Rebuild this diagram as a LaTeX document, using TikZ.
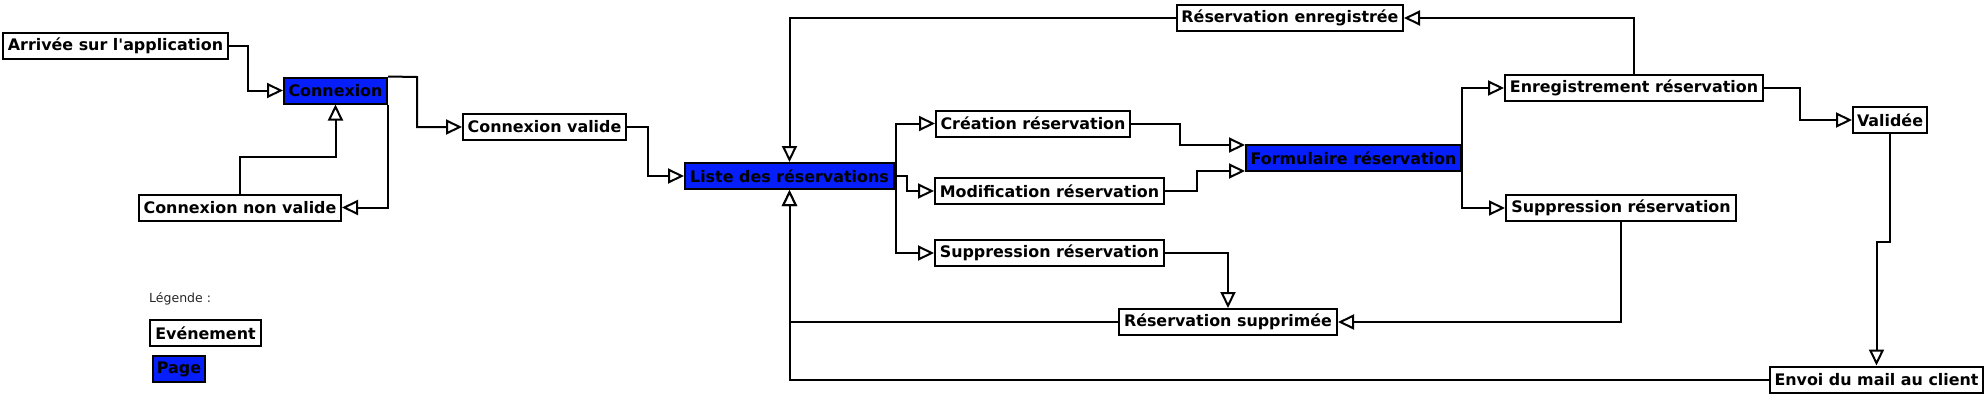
\documentclass[tikz,border=0pt]{standalone}
\usepackage{fontspec}
\setmainfont{DejaVu Sans}
\usetikzlibrary{arrows.meta,calc}
\definecolor{pageblue}{RGB}{5,30,250}
\begin{document}
\begin{tikzpicture}[x=1pt,y=-1pt,
  box/.style={draw, line width=2pt, inner sep=0pt, minimum height=26pt, anchor=center,
    font=\fontsize{15.9}{18}\selectfont\bfseries, fill=white},
  pagebox/.style={box, fill=pageblue},
  flow/.style={line width=2pt, -{Triangle[open, length=16pt, width=15pt, line width=2pt, fill=white]}},
  line/.style={line width=2pt}
]
\useasboundingbox (0,0) rectangle (1986,413);

% nodes
\node[box, minimum width=225pt] (arr) at (115.5,46) {Arrivée sur l\textquotesingle application};
\node[pagebox, minimum width=103pt] (cnx) at (335.5,90.5) {Connexion};
\node[box, minimum width=202pt] (cnv) at (240,207.5) {Connexion non valide};
\node[box, minimum width=163pt] (cv) at (544.5,127) {Connexion valide};
\node[pagebox, minimum width=209pt] (liste) at (789.5,176) {Liste des réservations};
\node[box, minimum width=226pt] (renr) at (1290,18) {Réservation enregistrée};
\node[box, minimum width=194pt] (crea) at (1033,123.5) {Création réservation};
\node[box, minimum width=229pt] (modif) at (1049.5,191) {Modification réservation};
\node[box, minimum width=229pt] (supl) at (1049.5,253) {Suppression réservation};
\node[pagebox, minimum width=215pt] (form) at (1353.5,158) {Formulaire réservation};
\node[box, minimum width=258pt] (enr) at (1634,88) {Enregistrement réservation};
\node[box, minimum width=230pt] (supr) at (1621,208) {Suppression réservation};
\node[box, minimum width=74pt] (val) at (1890,120) {Validée};
\node[box, minimum width=218pt] (rsup) at (1228,322) {Réservation supprimée};
\node[box, minimum width=213pt] (envoi) at (1876.5,379.5) {Envoi du mail au client};

% legend
\node[anchor=west, inner sep=0pt, font=\fontsize{12.5}{15}\selectfont, text=black!85] (leg) at (149,299) {Légende :};
\node[box, minimum width=111pt] (evt) at (205.5,333) {Evénement};
\node[pagebox, minimum width=52pt] (page) at (179,369) {Page};

% connectors
\draw[flow] (arr.east) -- (248,46) -- (248,90.5) -- (cnx.west);
\draw[flow] (cnx.north east) -- (417,77) -- (417,127) -- (cv.west);
\draw[flow] (cnx.south east) -- (cnx.south east |- cnv.east) -- (cnv.east);
\draw[flow] (cnv.north) -- (240,157) -- (335.5,157) -- (cnx.south);
\draw[flow] (cv.east) -- (648,127) -- (648,176) -- (liste.west);
\draw[flow] ($(liste.east)+(1,0)$) |- (crea.west);
\draw[flow] (liste.east) -- (907,176) -- (907,191) -- (modif.west);
\draw[flow] ($(liste.east)+(1,0)$) |- (supl.west);
\draw[flow] (crea.east) -- (1180,123.5) -- (1180,145) -- ($(form.west)+(0,-13)$);
\draw[flow] (modif.east) -- (1197,191) -- (1197,171) -- ($(form.west)+(0,13)$);
\draw[flow] (form.east) |- (enr.west);
\draw[flow] (form.east) |- (supr.west);
\draw[flow] (enr.north) |- (renr.east);
\draw[flow] (renr.west) -| (liste.north);
\draw[flow] (enr.east) -- (1800,88) -- (1800,120) -- (val.west);
\draw[flow] (val.south) -- (1890,242) -- (1876.5,242) -- (envoi.north);
\draw[flow] (envoi.west) -| (liste.south);
\draw[flow] (supr.south) |- (rsup.east);
\draw[flow] (supl.east) -| (rsup.north);
\draw[flow] (rsup.west) -| (liste.south);
\end{tikzpicture}
\end{document}
